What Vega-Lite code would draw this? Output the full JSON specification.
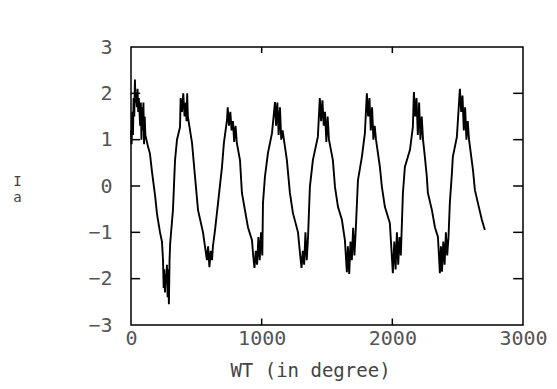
{
  "$schema": "https://vega.github.io/schema/vega-lite/v6.json",
  "autosize": "none",
  "width": 392,
  "height": 278,
  "padding": {"left": 131, "top": 47, "right": 34, "bottom": 64},
  "background": "white",
  "config": {
    "view": {"stroke": "black", "strokeWidth": 1.5},
    "axis": {
      "labelFont": "DejaVu Sans Mono",
      "titleFont": "DejaVu Sans Mono",
      "labelColor": "#555",
      "titleColor": "#444",
      "labelFontSize": 20,
      "titleFontSize": 19,
      "titleFontWeight": "normal",
      "grid": false,
      "domain": false,
      "ticks": false
    }
  },
  "data": {
    "values": [
      {"wt": 0, "ia": 1.2}, {"wt": 5, "ia": 0.9}, {"wt": 10, "ia": 1.6}, {"wt": 15, "ia": 1.1},
      {"wt": 20, "ia": 1.9}, {"wt": 25, "ia": 1.5}, {"wt": 30, "ia": 2.3}, {"wt": 35, "ia": 1.8},
      {"wt": 40, "ia": 2.0}, {"wt": 45, "ia": 1.7}, {"wt": 50, "ia": 2.1}, {"wt": 55, "ia": 1.6},
      {"wt": 60, "ia": 1.9}, {"wt": 70, "ia": 1.3}, {"wt": 75, "ia": 1.8}, {"wt": 80, "ia": 1.0},
      {"wt": 85, "ia": 1.7}, {"wt": 90, "ia": 1.2}, {"wt": 95, "ia": 1.8}, {"wt": 100, "ia": 0.9},
      {"wt": 105, "ia": 1.5}, {"wt": 110, "ia": 1.1}, {"wt": 130, "ia": 0.85}, {"wt": 145, "ia": 0.7},
      {"wt": 161, "ia": 0.3}, {"wt": 184, "ia": -0.2}, {"wt": 199, "ia": -0.6}, {"wt": 222, "ia": -1.0},
      {"wt": 237, "ia": -1.2}, {"wt": 245, "ia": -1.6}, {"wt": 250, "ia": -2.2}, {"wt": 255, "ia": -1.8},
      {"wt": 260, "ia": -2.3}, {"wt": 265, "ia": -1.9}, {"wt": 270, "ia": -2.1}, {"wt": 275, "ia": -1.7},
      {"wt": 280, "ia": -2.4}, {"wt": 285, "ia": -1.8}, {"wt": 290, "ia": -2.55}, {"wt": 295, "ia": -1.6},
      {"wt": 300, "ia": -1.23}, {"wt": 321, "ia": -0.52}, {"wt": 337, "ia": 0.56}, {"wt": 352, "ia": 1.0},
      {"wt": 375, "ia": 1.27}, {"wt": 380, "ia": 1.9}, {"wt": 390, "ia": 1.6}, {"wt": 400, "ia": 2.0},
      {"wt": 410, "ia": 1.5}, {"wt": 420, "ia": 1.8}, {"wt": 425, "ia": 1.4}, {"wt": 430, "ia": 2.0},
      {"wt": 435, "ia": 1.5}, {"wt": 467, "ia": 0.93}, {"wt": 490, "ia": 0.2}, {"wt": 513, "ia": -0.52},
      {"wt": 551, "ia": -1.0}, {"wt": 581, "ia": -1.6}, {"wt": 590, "ia": -1.3}, {"wt": 600, "ia": -1.75},
      {"wt": 610, "ia": -1.4}, {"wt": 620, "ia": -1.6}, {"wt": 627, "ia": -1.3}, {"wt": 643, "ia": -0.95},
      {"wt": 666, "ia": -0.37}, {"wt": 696, "ia": 0.4}, {"wt": 711, "ia": 0.93}, {"wt": 735, "ia": 1.43},
      {"wt": 740, "ia": 1.7}, {"wt": 750, "ia": 1.3}, {"wt": 760, "ia": 1.6}, {"wt": 770, "ia": 1.2},
      {"wt": 780, "ia": 1.4}, {"wt": 790, "ia": 0.95}, {"wt": 800, "ia": 1.3}, {"wt": 810, "ia": 0.93},
      {"wt": 834, "ia": 0.56}, {"wt": 849, "ia": -0.15}, {"wt": 872, "ia": -0.52}, {"wt": 895, "ia": -0.89},
      {"wt": 926, "ia": -1.17}, {"wt": 935, "ia": -1.5}, {"wt": 945, "ia": -1.77}, {"wt": 955, "ia": -1.4},
      {"wt": 965, "ia": -1.7}, {"wt": 975, "ia": -1.1}, {"wt": 985, "ia": -1.6}, {"wt": 995, "ia": -1.0},
      {"wt": 1005, "ia": -1.5}, {"wt": 1010, "ia": -0.37}, {"wt": 1025, "ia": 0.2}, {"wt": 1048, "ia": 0.71},
      {"wt": 1079, "ia": 1.14}, {"wt": 1102, "ia": 1.81}, {"wt": 1110, "ia": 1.3}, {"wt": 1120, "ia": 1.8},
      {"wt": 1130, "ia": 1.1}, {"wt": 1140, "ia": 1.7}, {"wt": 1150, "ia": 1.0}, {"wt": 1160, "ia": 1.2},
      {"wt": 1193, "ia": 0.56}, {"wt": 1216, "ia": -0.15}, {"wt": 1239, "ia": -0.58}, {"wt": 1278, "ia": -1.0},
      {"wt": 1295, "ia": -1.5}, {"wt": 1305, "ia": -1.77}, {"wt": 1315, "ia": -1.4}, {"wt": 1325, "ia": -1.7},
      {"wt": 1335, "ia": -1.0}, {"wt": 1345, "ia": -1.6}, {"wt": 1355, "ia": -1.1}, {"wt": 1369, "ia": -0.02},
      {"wt": 1392, "ia": 0.56}, {"wt": 1430, "ia": 1.06}, {"wt": 1445, "ia": 1.9}, {"wt": 1455, "ia": 1.4},
      {"wt": 1465, "ia": 1.85}, {"wt": 1475, "ia": 1.3}, {"wt": 1485, "ia": 1.6}, {"wt": 1495, "ia": 0.95},
      {"wt": 1505, "ia": 1.5}, {"wt": 1515, "ia": 1.0}, {"wt": 1545, "ia": 0.56}, {"wt": 1561, "ia": -0.02},
      {"wt": 1584, "ia": -0.45}, {"wt": 1614, "ia": -0.73}, {"wt": 1637, "ia": -1.17}, {"wt": 1652, "ia": -1.86},
      {"wt": 1660, "ia": -1.3}, {"wt": 1670, "ia": -1.9}, {"wt": 1680, "ia": -1.2}, {"wt": 1690, "ia": -1.6},
      {"wt": 1700, "ia": -0.9}, {"wt": 1710, "ia": -1.5}, {"wt": 1720, "ia": -0.95}, {"wt": 1737, "ia": 0.13},
      {"wt": 1767, "ia": 0.63}, {"wt": 1790, "ia": 1.14}, {"wt": 1805, "ia": 2.0}, {"wt": 1815, "ia": 1.5},
      {"wt": 1825, "ia": 1.9}, {"wt": 1835, "ia": 1.2}, {"wt": 1845, "ia": 1.7}, {"wt": 1855, "ia": 1.0},
      {"wt": 1865, "ia": 1.3}, {"wt": 1875, "ia": 1.0}, {"wt": 1905, "ia": 0.41}, {"wt": 1920, "ia": -0.02},
      {"wt": 1943, "ia": -0.45}, {"wt": 1981, "ia": -0.8}, {"wt": 2004, "ia": -1.88}, {"wt": 2015, "ia": -1.2},
      {"wt": 2025, "ia": -1.8}, {"wt": 2035, "ia": -1.0}, {"wt": 2045, "ia": -1.7}, {"wt": 2055, "ia": -1.1},
      {"wt": 2065, "ia": -1.5}, {"wt": 2081, "ia": -0.15}, {"wt": 2096, "ia": 0.41}, {"wt": 2135, "ia": 0.78},
      {"wt": 2157, "ia": 1.27}, {"wt": 2165, "ia": 2.03}, {"wt": 2175, "ia": 1.5}, {"wt": 2185, "ia": 1.9},
      {"wt": 2195, "ia": 1.1}, {"wt": 2205, "ia": 1.8}, {"wt": 2215, "ia": 1.0}, {"wt": 2225, "ia": 1.5},
      {"wt": 2235, "ia": 1.0}, {"wt": 2249, "ia": 0.63}, {"wt": 2264, "ia": 0.2}, {"wt": 2272, "ia": -0.15},
      {"wt": 2303, "ia": -0.52}, {"wt": 2326, "ia": -0.89}, {"wt": 2349, "ia": -1.1}, {"wt": 2364, "ia": -1.88},
      {"wt": 2372, "ia": -1.3}, {"wt": 2380, "ia": -1.85}, {"wt": 2390, "ia": -1.2}, {"wt": 2400, "ia": -1.7},
      {"wt": 2410, "ia": -1.0}, {"wt": 2420, "ia": -1.5}, {"wt": 2430, "ia": -1.1}, {"wt": 2440, "ia": -0.37},
      {"wt": 2456, "ia": 0.28}, {"wt": 2463, "ia": 0.63}, {"wt": 2494, "ia": 1.06}, {"wt": 2517, "ia": 2.1},
      {"wt": 2527, "ia": 1.6}, {"wt": 2537, "ia": 1.95}, {"wt": 2547, "ia": 1.2}, {"wt": 2557, "ia": 1.7},
      {"wt": 2567, "ia": 1.0}, {"wt": 2577, "ia": 1.4}, {"wt": 2587, "ia": 1.0}, {"wt": 2617, "ia": 0.35},
      {"wt": 2632, "ia": -0.09}, {"wt": 2655, "ia": -0.37}, {"wt": 2685, "ia": -0.73}, {"wt": 2708, "ia": -0.95}
    ]
  },
  "layer": [
    {
      "mark": {"type": "line", "color": "black", "strokeWidth": 1.9, "interpolate": "linear"},
      "encoding": {
        "x": {
          "field": "wt", "type": "quantitative",
          "scale": {"domain": [0, 3000], "nice": false, "zero": false},
          "axis": {
            "orient": "bottom", "values": [0, 1000, 2000, 3000], "format": "d",
            "labelPadding": 3, "labelFlush": false,
            "title": "WT (in degree)", "titleX": 179, "titleY": 45, "titleBaseline": "middle", "titleAnchor": "start", "titleAlign": "center"
          }
        },
        "y": {
          "field": "ia", "type": "quantitative",
          "scale": {"domain": [-3, 3], "nice": false, "zero": false},
          "axis": {
            "orient": "left", "values": [-3, -2, -1, 0, 1, 2, 3], "format": "d",
            "labelPadding": 19,
            "title": ["I", "a"], "titleAngle": 0, "titleX": -114, "titleY": 134,
            "titleAlign": "center", "titleBaseline": "middle", "titleFontSize": 14, "titleLineHeight": 16
          }
        }
      }
    },
    {
      "data": {"values": [{"ia": -2}, {"ia": -1}, {"ia": 0}, {"ia": 1}, {"ia": 2}]},
      "mark": {"type": "rule", "color": "black", "strokeWidth": 1.5},
      "encoding": {
        "y": {"field": "ia", "type": "quantitative"},
        "x": {"datum": 0},
        "x2": {"datum": 70}
      }
    },
    {
      "data": {"values": [{"ia": -2}, {"ia": -1}, {"ia": 0}, {"ia": 1}, {"ia": 2}]},
      "mark": {"type": "rule", "color": "black", "strokeWidth": 1.5},
      "encoding": {
        "y": {"field": "ia", "type": "quantitative"},
        "x": {"datum": 2925},
        "x2": {"datum": 3000}
      }
    },
    {
      "data": {"values": [{"wt": 1000}, {"wt": 2000}]},
      "mark": {"type": "rule", "color": "black", "strokeWidth": 1.5},
      "encoding": {
        "x": {"field": "wt", "type": "quantitative"},
        "y": {"datum": -3},
        "y2": {"datum": -2.86}
      }
    },
    {
      "data": {"values": [{"wt": 1000}, {"wt": 2000}]},
      "mark": {"type": "rule", "color": "black", "strokeWidth": 1.5},
      "encoding": {
        "x": {"field": "wt", "type": "quantitative"},
        "y": {"datum": 2.87},
        "y2": {"datum": 3}
      }
    }
  ]
}
